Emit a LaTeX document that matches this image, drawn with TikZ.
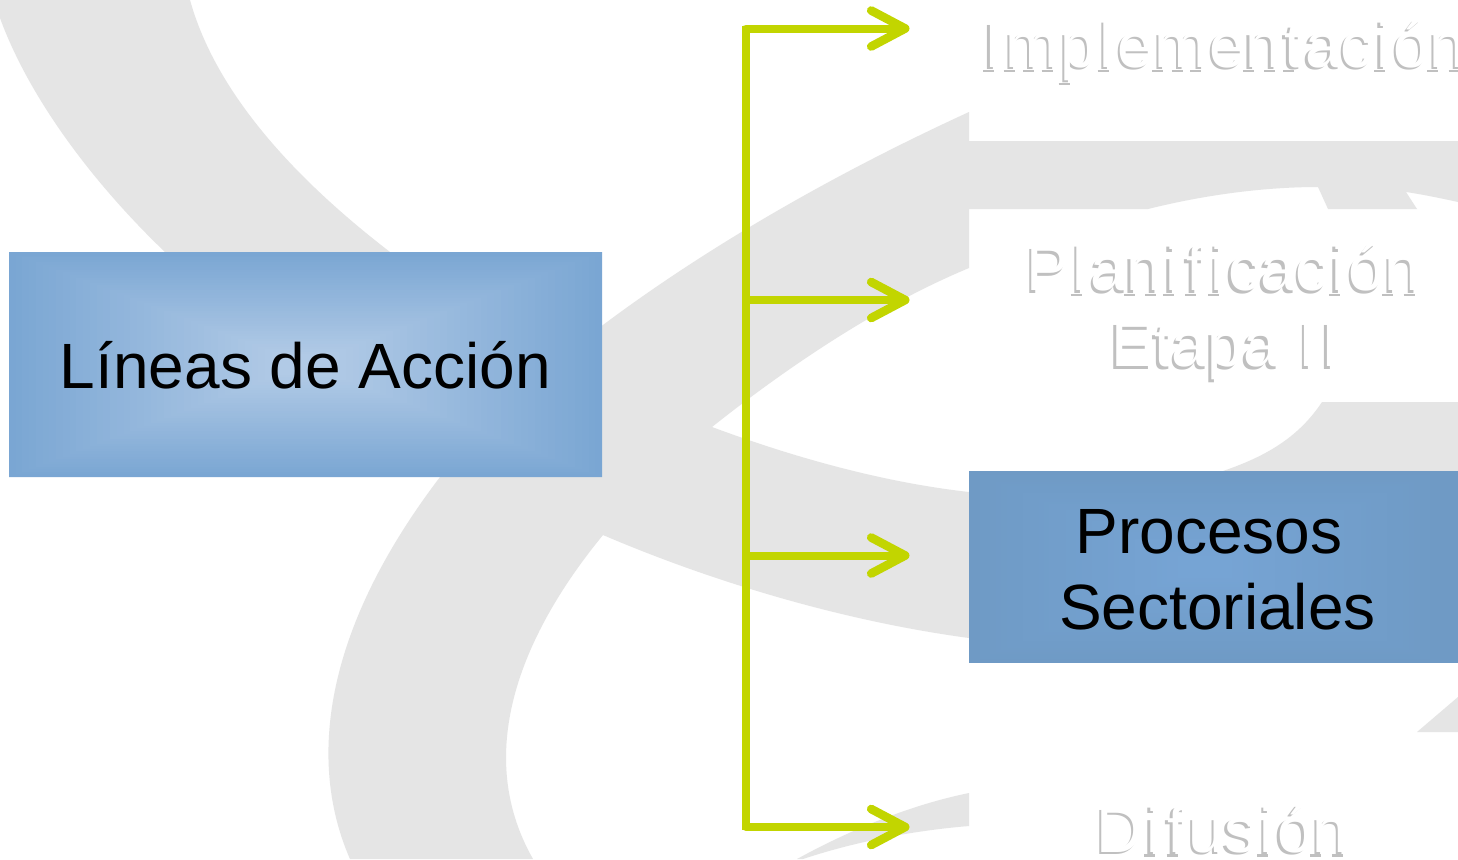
\documentclass[tikz,border=0pt]{standalone}
\usepackage{fontspec}
\setmainfont{Liberation Sans}
\usetikzlibrary{arrows.meta}
\definecolor{ribbon}{HTML}{E5E5E5}
\definecolor{lime}{HTML}{C2D500}
\definecolor{ghost}{HTML}{C0C0C0}
\definecolor{aout}{HTML}{7AA6D3}
\definecolor{ain}{HTML}{B1CAE6}
\definecolor{bout}{HTML}{6F9AC5}
\definecolor{bin}{HTML}{76A4D4}
\newcommand{\gradbox}[6]{%
  \foreach \i in {0,...,40}{%
    \pgfmathsetmacro{\f}{1-\i/44}%
    \pgfmathsetmacro{\p}{\i*2.5}%
    \fill[#5!\p!#6] ({#1-#3*\f},{#2-#4*\f}) rectangle ({#1+#3*\f},{#2+#4*\f});
  }}
% feet on the stems of the ghost letters (drawn in the shadow layer only)
\newcommand{\footat}[1]{}
\newcommand{\realfoot}[1]{\rlap{\kern#1em\kern-2pt\rule[-1.1pt]{5.5pt}{1.1pt}}}
\newcommand{\footdown}[1]{\rlap{\kern#1em\kern-2pt\rule[-7.6pt]{5.5pt}{1.1pt}}}
\newcommand{\footdesc}[1]{}
\newcommand{\gI}{\kern1.2pt\footat{.09}I\kern1.2pt}
\newcommand{\gl}{\kern1.7pt\footat{.066}l\kern1.7pt}
\newcommand{\gi}{\kern1.7pt\footat{.066}i\kern1.7pt}
\newcommand{\gf}{\kern1.7pt\footat{.09}f\kern1.7pt}
\newcommand{\gt}{\kern1.7pt\footat{.09}t\kern1.7pt}
\newcommand{\gm}{\kern.8pt\footat{.066}\footat{.37}\footat{.66}m\kern.8pt}
\newcommand{\gn}{\footat{.066}\footat{.40}n}
\newcommand{\gp}{\footdesc{.066}p}
\newcommand{\ImplText}{\gI\gm\gp\gl e\gm e\gn\gt ac\gi ó\gn}
\newcommand{\PlanText}{P\gl a\gn\gi\gf\gi cac\gi ó\gn\\\kern3pt Eta\gp a \gI\gI}
\newcommand{\DifText}{D\gi\gf us\gi ó\gn}
\newcommand{\shadowlayer}{\let\footat\realfoot\let\footdesc\footdown}
\tikzset{
  label text/.style={font=\fontsize{32}{38}\selectfont,align=center,inner sep=0pt},
  ghost shadow/.style={label text,text=ghost},
  ghost face/.style={label text,text=white},
  ribbonfill/.style={fill=ribbon,draw=none},
  trunk/.style={draw=lime,line width=4pt},
  branch/.style={draw=lime,line width=4pt,-{Straight Barb[length=17pt,width=18pt,line width=4.3pt,round]},line cap=round}
}
\begin{document}
\begin{tikzpicture}[x=0.5pt,y=-0.5pt]
\useasboundingbox (0,0) rectangle (1458,859);
\clip (0,0) rectangle (1458,859);
\fill[white] (0,0) rectangle (1458,859);
% background ribbons
\fill[ribbonfill] (0,18) .. controls (30,100) and (95,185) .. (165,252)
  .. controls (290,375) and (440,470) .. (603,535)
  .. controls (720,585) and (850,622) .. (969,638)
  -- (969,492) .. controls (880,482) and (790,456) .. (712,427)
  .. controls (600,385) and (480,325) .. (390,252)
  .. controls (290,175) and (215,90) .. (190,0) -- (0,0) -- cycle;
\fill[ribbonfill] (350,859) .. controls (311,770) and (316,640) .. (440,477)
  .. controls (510,385) and (690,240) .. (969,112)
  -- (969,268) .. controls (880,305) and (790,365) .. (712,427)
  .. controls (680,455) and (640,490) .. (603,535)
  .. controls (525,630) and (471,750) .. (533,859) -- cycle;
\fill[ribbonfill] (969,141) -- (1458,141) -- (1458,202)
  .. controls (1440,198) and (1420,194) .. (1406,192) -- (1417,209) -- (1328,209) -- (1318,187)
  .. controls (1260,187) and (1200,196) .. (1148,209) -- (969,209) -- cycle;
\fill[ribbonfill] (1322,402) -- (1458,402) -- (1458,471) -- (1223,471)
  .. controls (1270,455) and (1300,435) .. (1322,402);
\fill[ribbonfill] (1417,732) -- (1458,697) -- (1458,732) -- cycle;
\fill[ribbonfill] (797,859) .. controls (850,830) and (910,805) .. (969,793) -- (969,826)
  .. controls (920,830) and (860,840) .. (803,859) -- cycle;
% boxes
\gradbox{305.5}{364.5}{296.5}{112.5}{ain}{aout}
\fill[aout,even odd rule] (9,252) rectangle (602,477) (12,255) rectangle (599,474);
\begin{scope}
\clip (969,471) rectangle (1458,663);
\fill[bout] (969,471) rectangle (1458,663);
\gradbox{1205}{567}{236}{96}{bin}{bout}
\end{scope}
\node[label text] (lineas) at (305.5,365.5) {Líneas de Acción};
\node[label text] (procesos) at (1217.5,570) {Procesos\kern8.5pt\\Sectoriales};
% ghost labels
\node[ghost shadow] (implS) at (1221,54) {\shadowlayer\ImplText};
\node[ghost face] (impl) at (1223.5,51) {\ImplText};
\node[ghost shadow] (planS) at (1221,315) {\shadowlayer\PlanText};
\node[ghost face] (plan) at (1223.5,312) {\PlanText};
\node[ghost shadow] (difS) at (1220,832) {\shadowlayer\DifText};
\node[ghost face] (dif) at (1222.5,829) {\DifText};
% connectors
\coordinate (top) at (745.5,26);
\coordinate (bottom) at (745.5,830);
\coordinate (t1) at (746,28.5);
\coordinate (t2) at (746,300);
\coordinate (t3) at (746,555.5);
\coordinate (t4) at (746,827);
\coordinate (e1) at (909.5,28.5);
\coordinate (e2) at (909.5,300);
\coordinate (e3) at (909.5,555.5);
\coordinate (e4) at (909.5,827);
\draw[trunk] (top) -- (bottom);
\draw[branch] (t1) -- (e1);
\draw[branch] (t2) -- (e2);
\draw[branch] (t3) -- (e3);
\draw[branch] (t4) -- (e4);
\end{tikzpicture}
\end{document}
